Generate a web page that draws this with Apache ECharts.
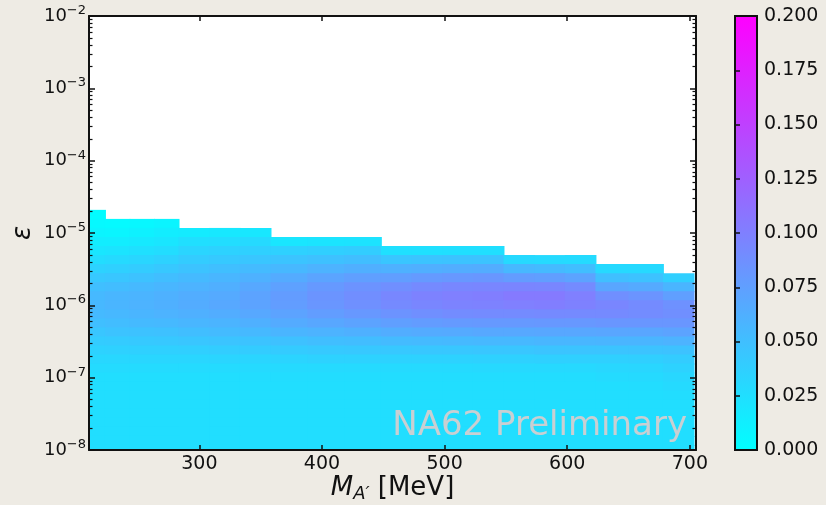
<!DOCTYPE html>
<html>
<head>
<meta charset="utf-8">
<title>NA62 dark photon acceptance</title>
<script src="https://cdn.jsdelivr.net/npm/echarts@6/dist/echarts.min.js"></script>
<style>
html, body { margin: 0; padding: 0; background: #eeebe4; }
#main { width: 826px; height: 505px; }
</style>
</head>
<body>
<div id="main"></div>
<script>
// mass bin edges [MeV] of the value columns
var massEdges = [208, 223, 243, 263, 283, 308, 333, 358, 388, 418, 448, 473, 498, 523, 548, 573, 598, 623, 650, 678, 703];
// log10(epsilon) bin edges, bottom to top
var epsEdges = [-8.055, -7.930, -7.805, -7.680, -7.555, -7.430, -7.305, -7.180, -7.055, -6.930,
                -6.805, -6.680, -6.555, -6.430, -6.305, -6.180, -6.055, -5.930, -5.805, -5.680,
                -5.555, -5.430, -5.305, -5.180, -5.055, -4.930, -4.805, -4.680];
var _ = null;
// values per epsilon bin, top row first, one entry per mass column
var eff = [
  [0.002, _, _, _, _, _, _, _, _, _, _, _, _, _, _, _, _, _, _, _],
  [0.005, 0.004, 0.006, 0.009, _, _, _, _, _, _, _, _, _, _, _, _, _, _, _, _],
  [0.009, 0.008, 0.011, 0.014, 0.016, 0.018, 0.019, _, _, _, _, _, _, _, _, _, _, _, _, _],
  [0.014, 0.014, 0.017, 0.020, 0.025, 0.027, 0.029, 0.020, 0.021, 0.022, _, _, _, _, _, _, _, _, _, _],
  [0.020, 0.021, 0.024, 0.027, 0.033, 0.035, 0.037, 0.036, 0.038, 0.039, 0.024, 0.024, 0.025, 0.025, _, _, _, _, _, _],
  [0.027, 0.029, 0.032, 0.035, 0.040, 0.042, 0.045, 0.046, 0.049, 0.051, 0.045, 0.046, 0.047, 0.047, 0.030, 0.029, 0.028, _, _, _],
  [0.035, 0.037, 0.040, 0.043, 0.047, 0.050, 0.053, 0.056, 0.060, 0.063, 0.061, 0.063, 0.064, 0.065, 0.056, 0.054, 0.051, 0.030, 0.030, _],
  [0.043, 0.045, 0.048, 0.051, 0.054, 0.057, 0.061, 0.066, 0.071, 0.075, 0.076, 0.079, 0.081, 0.082, 0.078, 0.076, 0.072, 0.050, 0.048, 0.038],
  [0.050, 0.052, 0.055, 0.057, 0.060, 0.063, 0.068, 0.074, 0.080, 0.085, 0.088, 0.092, 0.094, 0.095, 0.096, 0.095, 0.091, 0.070, 0.067, 0.058],
  [0.055, 0.057, 0.059, 0.061, 0.064, 0.067, 0.072, 0.078, 0.084, 0.089, 0.094, 0.098, 0.100, 0.101, 0.104, 0.104, 0.100, 0.088, 0.084, 0.075],
  [0.056, 0.058, 0.060, 0.062, 0.065, 0.068, 0.072, 0.077, 0.082, 0.087, 0.092, 0.095, 0.097, 0.098, 0.100, 0.101, 0.099, 0.095, 0.091, 0.086],
  [0.054, 0.056, 0.058, 0.060, 0.062, 0.064, 0.068, 0.072, 0.077, 0.081, 0.085, 0.088, 0.090, 0.091, 0.091, 0.092, 0.092, 0.092, 0.090, 0.088],
  [0.050, 0.052, 0.054, 0.055, 0.057, 0.059, 0.062, 0.066, 0.069, 0.072, 0.075, 0.078, 0.079, 0.080, 0.080, 0.081, 0.081, 0.082, 0.082, 0.082],
  [0.045, 0.047, 0.048, 0.049, 0.051, 0.053, 0.055, 0.058, 0.060, 0.062, 0.064, 0.066, 0.067, 0.068, 0.068, 0.069, 0.069, 0.070, 0.070, 0.072],
  [0.040, 0.041, 0.042, 0.043, 0.045, 0.046, 0.047, 0.049, 0.051, 0.052, 0.053, 0.054, 0.055, 0.056, 0.056, 0.057, 0.057, 0.058, 0.058, 0.060],
  [0.035, 0.036, 0.037, 0.037, 0.038, 0.039, 0.040, 0.041, 0.042, 0.043, 0.043, 0.044, 0.044, 0.045, 0.045, 0.046, 0.046, 0.046, 0.047, 0.048],
  [0.031, 0.031, 0.032, 0.032, 0.032, 0.033, 0.033, 0.034, 0.035, 0.035, 0.035, 0.035, 0.035, 0.036, 0.036, 0.037, 0.037, 0.037, 0.038, 0.040],
  [0.028, 0.028, 0.028, 0.028, 0.028, 0.028, 0.029, 0.029, 0.029, 0.029, 0.029, 0.029, 0.029, 0.030, 0.030, 0.030, 0.030, 0.031, 0.032, 0.035],
  [0.026, 0.026, 0.026, 0.026, 0.026, 0.026, 0.027, 0.027, 0.027, 0.027, 0.027, 0.027, 0.027, 0.027, 0.027, 0.027, 0.027, 0.028, 0.029, 0.031],
  [0.026, 0.026, 0.026, 0.026, 0.026, 0.026, 0.026, 0.026, 0.026, 0.026, 0.026, 0.026, 0.026, 0.026, 0.026, 0.026, 0.026, 0.026, 0.027, 0.029],
  [0.026, 0.026, 0.026, 0.026, 0.026, 0.026, 0.026, 0.026, 0.026, 0.026, 0.026, 0.026, 0.026, 0.026, 0.026, 0.026, 0.026, 0.026, 0.026, 0.027],
  [0.026, 0.026, 0.026, 0.026, 0.026, 0.026, 0.026, 0.026, 0.026, 0.026, 0.026, 0.026, 0.026, 0.026, 0.026, 0.026, 0.026, 0.026, 0.026, 0.026],
  [0.026, 0.026, 0.026, 0.026, 0.026, 0.026, 0.026, 0.026, 0.026, 0.026, 0.026, 0.026, 0.026, 0.026, 0.026, 0.026, 0.026, 0.026, 0.026, 0.026],
  [0.026, 0.026, 0.026, 0.026, 0.026, 0.026, 0.026, 0.026, 0.026, 0.026, 0.026, 0.026, 0.026, 0.026, 0.026, 0.026, 0.026, 0.026, 0.026, 0.026],
  [0.026, 0.026, 0.026, 0.026, 0.026, 0.026, 0.026, 0.026, 0.026, 0.026, 0.026, 0.026, 0.026, 0.026, 0.026, 0.026, 0.026, 0.026, 0.026, 0.026],
  [0.026, 0.026, 0.026, 0.026, 0.026, 0.026, 0.026, 0.026, 0.026, 0.026, 0.026, 0.026, 0.026, 0.026, 0.026, 0.026, 0.026, 0.026, 0.026, 0.026],
  [0.026, 0.026, 0.026, 0.026, 0.026, 0.026, 0.026, 0.026, 0.026, 0.026, 0.026, 0.026, 0.026, 0.026, 0.026, 0.026, 0.026, 0.026, 0.026, 0.026]
];
var xTicks = [300, 400, 500, 600, 700];
var yTicks = [-8, -7, -6, -5, -4, -3, -2];
var cbTicks = [0, 0.025, 0.05, 0.075, 0.1, 0.125, 0.15, 0.175, 0.2];
var cbRange = [0, 0.2];
var watermark = 'NA62 Preliminary';

var FONT = 'DejaVu Sans';
var INK = '#111111';

var cells = [];
for (var r = 0; r < eff.length; r++) {
    var n = eff.length - 1 - r;
    for (var g = 0; g < massEdges.length - 1; g++) {
        if (eff[r][g] === null) continue;
        cells.push([massEdges[g], massEdges[g + 1], epsEdges[n], epsEdges[n + 1], eff[r][g]]);
    }
}

// matplotlib style minor ticks of the log axis
var minorTicks = [];
for (var d = yTicks[0]; d < yTicks[yTicks.length - 1]; d++) {
    for (var k = 2; k <= 9; k++) minorTicks.push(d + Math.log10(k));
}

function frameLine() { return { show: true, onZero: false, lineStyle: { color: INK, width: 2 } }; }

var myChart = echarts.init(document.getElementById('main'));
var option = {
    backgroundColor: '#eeebe4',
    animation: false,
    grid: [
        { left: 89, top: 16, width: 607, height: 434, show: true, backgroundColor: '#ffffff', borderWidth: 0 },
        { left: 735, top: 16, width: 22, height: 434 }
    ],
    visualMap: {
        type: 'continuous', show: false, seriesIndex: 0, dimension: 4,
        min: cbRange[0], max: cbRange[1],
        inRange: { color: ['#00ffff', '#ff00ff'] }
    },
    xAxis: [
        {
            gridIndex: 0, type: 'value', min: 210, max: 705, position: 'bottom', z: 10,
            axisLine: frameLine(),
            axisTick: { inside: true, length: 5, customValues: xTicks, lineStyle: { color: INK, width: 1.5 } },
            axisLabel: { customValues: xTicks, margin: 5, color: INK, fontSize: 19, fontFamily: FONT },
            splitLine: { show: false }
        },
        {
            gridIndex: 0, type: 'value', min: 210, max: 705, position: 'top', z: 10,
            axisLine: frameLine(),
            axisTick: { inside: true, length: 5, customValues: xTicks, lineStyle: { color: INK, width: 1.5 } },
            axisLabel: { show: false },
            splitLine: { show: false }
        },
        { gridIndex: 1, type: 'value', min: 0, max: 1, show: false }
    ],
    yAxis: [
        {
            gridIndex: 0, type: 'value', min: -8, max: -2, interval: 1, position: 'left', z: 10,
            axisLine: frameLine(),
            axisTick: { inside: true, length: 6, lineStyle: { color: INK, width: 1.5 } },
            axisLabel: {
                margin: 3, showMinLabel: true, showMaxLabel: true,
                formatter: function (v) { return '{b|10}{s|\u2212' + Math.abs(v) + '}'; },
                rich: {
                    b: { fontSize: 18, lineHeight: 24, fontFamily: FONT, color: INK },
                    s: { fontSize: 13, lineHeight: 13, verticalAlign: 'top', fontFamily: FONT, color: INK }
                }
            },
            splitLine: { show: false }
        },
        {
            gridIndex: 0, type: 'value', min: -8, max: -2, position: 'left', z: 10,
            axisLine: { show: false },
            axisTick: { inside: true, length: 3.5, customValues: minorTicks, lineStyle: { color: INK, width: 1.2 } },
            axisLabel: { show: false }, splitLine: { show: false }
        },
        {
            gridIndex: 0, type: 'value', min: -8, max: -2, interval: 1, position: 'right', z: 10,
            axisLine: frameLine(),
            axisTick: { inside: true, length: 6, lineStyle: { color: INK, width: 1.5 } },
            axisLabel: { show: false }, splitLine: { show: false }
        },
        {
            gridIndex: 0, type: 'value', min: -8, max: -2, position: 'right', z: 10,
            axisLine: { show: false },
            axisTick: { inside: true, length: 3.5, customValues: minorTicks, lineStyle: { color: INK, width: 1.2 } },
            axisLabel: { show: false }, splitLine: { show: false }
        },
        {
            gridIndex: 1, type: 'value', min: cbRange[0], max: cbRange[1], position: 'right', z: 10,
            axisLine: { show: false },
            axisTick: { show: true, inside: false, length: 5, customValues: cbTicks, lineStyle: { color: INK, width: 1.5 } },
            axisLabel: {
                customValues: cbTicks, margin: 7, color: INK, fontSize: 19, fontFamily: FONT,
                formatter: function (v) { return v.toFixed(3); }
            },
            splitLine: { show: false }
        }
    ],
    series: [
        {
            type: 'custom', xAxisIndex: 0, yAxisIndex: 0, silent: true,
            encode: { x: [0, 1], y: [2, 3] },
            data: cells,
            renderItem: function (params, api) {
                var p0 = api.coord([api.value(0), api.value(3)]);
                var p1 = api.coord([api.value(1), api.value(2)]);
                // grow by 1px right/down so the next cell covers the seam
                var shape = echarts.graphic.clipRectByRect(
                    { x: p0[0], y: p0[1], width: p1[0] - p0[0] + 1, height: p1[1] - p0[1] + 1 },
                    { x: params.coordSys.x, y: params.coordSys.y, width: params.coordSys.width, height: params.coordSys.height }
                );
                if (!shape) return;
                return { type: 'rect', shape: shape, style: { fill: api.visual('color') } };
            }
        },
        {
            type: 'custom', xAxisIndex: 2, yAxisIndex: 4, silent: true,
            data: [[0, 1, cbRange[0], cbRange[1]]],
            renderItem: function (params, api) {
                var p0 = api.coord([api.value(0), api.value(3)]);
                var p1 = api.coord([api.value(1), api.value(2)]);
                return {
                    type: 'rect',
                    shape: { x: p0[0], y: p0[1], width: p1[0] - p0[0], height: p1[1] - p0[1] },
                    style: {
                        fill: new echarts.graphic.LinearGradient(0, 1, 0, 0, [
                            { offset: 0, color: '#00ffff' },
                            { offset: 1, color: '#ff00ff' }
                        ]),
                        stroke: INK, lineWidth: 2
                    }
                };
            }
        }
    ],
    graphic: [
        {
            type: 'text', x: 687, y: 426, z: 100, silent: true,
            style: { text: watermark, font: '34px "DejaVu Sans"', fill: '#c9cfd2', align: 'right', verticalAlign: 'middle' }
        },
        {
            type: 'text', x: 392.5, y: 488, z: 100, silent: true,
            style: {
                text: '{m|M}{s|A\u2032}{n| [MeV]}', align: 'center', verticalAlign: 'middle',
                rich: {
                    m: { fontSize: 26, lineHeight: 30, fontStyle: 'italic', fontFamily: FONT, fill: INK },
                    s: { fontSize: 18, lineHeight: 18, verticalAlign: 'bottom', fontStyle: 'italic', fontFamily: FONT, fill: INK },
                    n: { fontSize: 26, lineHeight: 30, fontFamily: FONT, fill: INK }
                }
            }
        },
        {
            type: 'text', x: 23, y: 233, rotation: Math.PI / 2, z: 100, silent: true,
            style: { text: '\u03b5', font: 'italic 26px "DejaVu Sans"', fill: INK, align: 'center', verticalAlign: 'middle' }
        }
    ]
};
myChart.setOption(option);
</script>
</body>
</html>
